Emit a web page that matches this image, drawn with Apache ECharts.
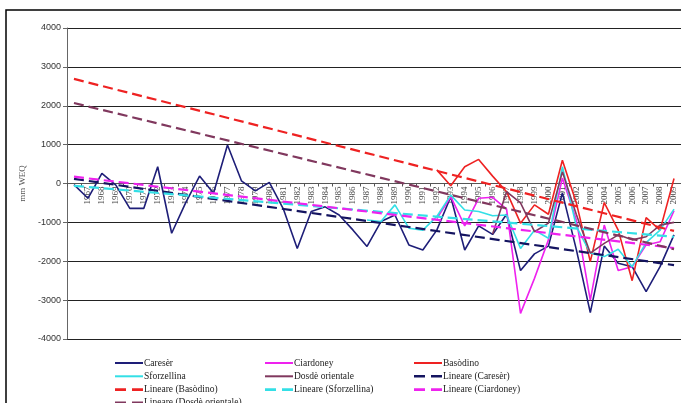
<!DOCTYPE html>
<html><head><meta charset="utf-8">
<script src="https://cdn.jsdelivr.net/npm/echarts@6/dist/echarts.min.js"></script>
<style>html,body{margin:0;padding:0;background:#fff;}#c{width:681px;height:403px;}</style>
</head><body><div id="c"></div>
<script>
const years = ['1966','1967','1968','1969','1970','1971','1972','1973','1974','1975','1976','1977','1978','1979','1980','1981','1982','1983','1984','1985','1986','1987','1988','1989','1990','1991','1992','1993','1994','1995','1996','1997','1998','1999','2000','2001','2002','2003','2004','2005','2006','2007','2008','2009'];
const yTicks = {min:-4000, max:4000, interval:1000};
const N = null;
const careser = [-30,-380,260,-40,-640,-640,430,-1280,-500,190,-250,990,70,-190,30,-650,-1670,-720,-600,-810,-1200,-1620,-980,-810,-1580,-1710,-1200,-340,-1710,-1090,-1310,-790,-2240,-1810,-1610,-240,-1700,-3320,-1610,-2050,-2140,-2780,-2140,-1320];
const ciardoney = [N,N,N,N,N,N,N,N,N,N,N,N,N,N,N,N,N,N,N,N,N,N,N,N,N,N,-900,-340,-1090,-380,-355,-660,-3340,-2440,-1450,140,-940,-3000,-1070,-2240,-2140,-1580,-1500,-700];
const basodino = [N,N,N,N,N,N,N,N,N,N,N,N,N,N,N,N,N,N,N,N,N,N,N,N,N,N,350,-60,430,620,190,-210,-1020,-550,-790,600,-500,-2010,-490,-1200,-2500,-880,-1200,130];
const sforzellina = [N,N,N,N,N,N,N,N,N,N,N,N,N,N,N,N,N,N,N,N,N,-940,-980,-550,-1150,-1200,-850,-300,-680,-720,-830,-810,-1670,-1200,-1410,430,-1100,-1790,-1880,-1690,-2140,-1520,-1200,-660];
const dosde = [N,N,N,N,N,N,N,N,N,N,N,N,N,N,N,N,N,N,N,N,N,N,N,N,N,N,N,N,N,N,-1300,-210,-500,-1240,-1020,300,-800,-1790,-1540,-1320,-1450,-1370,-1070,-1000];
// linear trend values at first and last year
const trendCareser = [120, -2100];
const trendBasodino = [2690, -1220];
const trendSforzellina = [-60, -1370];
const trendCiardoney = [175, -1660];
const trendDosde = [2070, -1690];

const C = {car:'#1e1e78', cia:'#ee22ee', bas:'#ee2222', sfo:'#33dfe6', dos:'#80385e'};
const first = years[0], last = years[years.length-1];
function solid(name, data, color){
  return {name, type:'line', data, symbol:'none', connectNulls:false,
    lineStyle:{color, width:1.6}, itemStyle:{color}, emphasis:{disabled:true}};
}
function trend(name, t, color){
  return {name, type:'line', data:[[first,t[0]],[last,t[1]]], symbol:'none',
    lineStyle:{color, width:2.2, type:[10,5]}, itemStyle:{color}, emphasis:{disabled:true}};
}
const serifFont = '"Liberation Serif","Times New Roman",serif';
const ICON_SOLID = 'path://M0,0H28V2H0Z';
const ICON_DASH = 'path://M0,0H11V2.6H0Z M17,0H28V2.6H17Z';
function legend(left, names){
  return {orient:'vertical', left, top:358, height:120, padding:0, itemWidth:28, itemHeight:10, itemGap:3.3,
    symbolKeepAspect:true,
    data:names.map(n=>({name:n, icon: n.indexOf('Lineare')===0 ? ICON_DASH : ICON_SOLID})),
    textStyle:{fontFamily:serifFont, fontSize:9.5, color:'#222', padding:[0,0,0,-4]},
    selectedMode:false};
}
const chart = echarts.init(document.getElementById('c'), null, {renderer:'canvas'});
chart.setOption({
  animation:false,
  backgroundColor:'#fff',
  grid:{left:67, top:28, width:616, height:311, containLabel:false},
  graphic:[{type:'rect', shape:{x:6,y:10,width:700,height:420}, style:{fill:'none', stroke:'#000', lineWidth:1.5}, z:100}],
  legend:[
    legend(115, ['Caresèr','Sforzellina','Lineare (Basòdino)','Lineare (Dosdè orientale)']),
    legend(265, ['Ciardoney','Dosdè orientale','Lineare (Sforzellina)']),
    legend(414, ['Basòdino','Lineare (Caresèr)','Lineare (Ciardoney)'])
  ],
  xAxis:{type:'category', data:years, boundaryGap:true, offset:-155.5,
    axisLine:{onZero:false, lineStyle:{color:'#555', width:1}},
    axisTick:{show:true, length:3, lineStyle:{color:'#555'}},
    axisLabel:{rotate:90, interval:0, margin:3, fontSize:9, fontFamily:serifFont, color:'#444',
      formatter:(v,i)=> i===0 ? '' : v},
    splitLine:{show:false}},
  yAxis:{type:'value', min:yTicks.min, max:yTicks.max, interval:yTicks.interval,
    name:'mm WEQ', nameLocation:'middle', nameRotate:90, nameGap:29,
    nameTextStyle:{fontFamily:serifFont, fontSize:9, color:'#555'},
    axisLine:{show:true, lineStyle:{color:'#666', width:1}},
    axisTick:{show:true, length:4, lineStyle:{color:'#666'}},
    axisLabel:{fontSize:9, fontFamily:'"Liberation Sans",Arial,sans-serif', color:'#333', margin:6,
      formatter:v=>String(v)},
    splitLine:{lineStyle:{color:'#222', width:1}}},
  series:[
    solid('Caresèr', careser, C.car),
    solid('Ciardoney', ciardoney, C.cia),
    solid('Basòdino', basodino, C.bas),
    solid('Sforzellina', sforzellina, C.sfo),
    solid('Dosdè orientale', dosde, C.dos),
    trend('Lineare (Caresèr)', trendCareser, '#141460'),
    trend('Lineare (Basòdino)', trendBasodino, C.bas),
    trend('Lineare (Sforzellina)', trendSforzellina, C.sfo),
    trend('Lineare (Ciardoney)', trendCiardoney, C.cia),
    trend('Lineare (Dosdè orientale)', trendDosde, C.dos)
  ]
});
</script></body></html>
